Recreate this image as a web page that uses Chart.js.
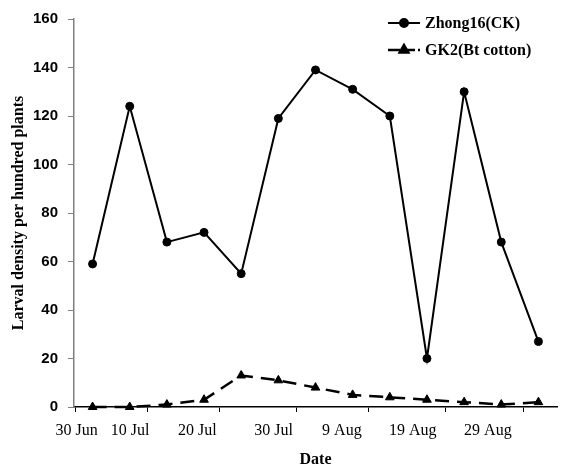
<!DOCTYPE html>
<html>
<head>
<meta charset="utf-8">
<script src="https://cdn.jsdelivr.net/npm/chart.js@4"></script>
<style>
  body { margin: 0; background: #fff; }
  canvas { display: block; }
</style>
</head>
<body>
<canvas id="larvaChart" width="563" height="465"></canvas>
<script>
// larval density per hundred plants, one value per sampling
const samples = [0, 1, 2, 3, 4, 5, 6, 7, 8, 9, 10, 11, 12];
const zhong16 = [59, 124, 68, 72, 55, 119, 139, 131, 120, 20, 130, 68, 27];
const gk2 = [0, 0, 1, 3, 13, 11, 8, 5, 4, 3, 2, 1, 2];

// date labels and where they sit on the sample axis
const dateLabels = ['30 Jun', '10 Jul', '20 Jul', '30 Jul', '9 Aug', '19 Aug', '29 Aug'];
const labelAt = [-0.43, 1.01, 2.82, 4.87, 6.71, 8.62, 10.64];
// tick marks on the date axis
const markAt = [-0.45, 1.49, 3.41, 5.48, 7.42, 9.50, 11.60];

const yTicks = [0, 20, 40, 60, 80, 100, 120, 140, 160];

const serif = 'Liberation Serif';
const sans = 'Liberation Sans';

const xTicks = [
  ...labelAt.map((v, i) => ({ value: v, text: dateLabels[i], mark: false })),
  ...markAt.map(v => ({ value: v, text: '', mark: true }))
];

// legend in the top right corner: short line with marker, then name
const cornerLegend = {
  id: 'cornerLegend',
  afterDraw(chart) {
    const ctx = chart.ctx;
    chart.data.datasets.forEach((ds, i) => {
      const y = 23 + i * 27;
      ctx.save();
      ctx.strokeStyle = ds.borderColor;
      ctx.lineWidth = ds.borderWidth;
      ctx.setLineDash(i === 0 ? [] : [12, 3]);
      ctx.beginPath();
      ctx.moveTo(388, y);
      ctx.lineTo(420, y);
      ctx.stroke();
      ctx.setLineDash([]);
      Chart.helpers.drawPoint(ctx, {
        pointStyle: ds.pointStyle,
        radius: ds.pointRadius,
        rotation: 0,
        borderWidth: 1
      }, 404, y);
      ctx.fillStyle = '#000';
      ctx.font = 'bold 16px "' + serif + '"';
      ctx.textAlign = 'left';
      ctx.textBaseline = 'middle';
      ctx.fillText(ds.label, 425, y + 1);
      ctx.restore();
    });
  }
};

new Chart(document.getElementById('larvaChart'), {
  type: 'line',
  data: {
    datasets: [{
      label: 'Zhong16(CK)',
      data: samples.map((s, i) => ({ x: s, y: zhong16[i] })),
      borderColor: '#000',
      backgroundColor: '#000',
      borderWidth: 2,
      pointStyle: 'circle',
      pointRadius: 4,
      pointBorderWidth: 1,
      tension: 0,
      clip: false
    }, {
      label: 'GK2(Bt cotton)',
      data: samples.map((s, i) => ({ x: s, y: gk2[i] })),
      borderColor: '#000',
      backgroundColor: '#000',
      borderWidth: 2.5,
      borderDash: [14, 8],
      pointStyle: 'triangle',
      pointRadius: 5,
      pointBorderWidth: 1,
      tension: 0,
      clip: false
    }]
  },
  options: {
    responsive: false,
    animation: false,
    devicePixelRatio: 1,
    layout: { padding: { top: 15, right: 0, left: 0, bottom: 0 } },
    plugins: {
      legend: { display: false },
      tooltip: { enabled: false }
    },
    scales: {
      x: {
        type: 'linear',
        min: -0.5,
        max: 12.5,
        afterBuildTicks(scale) {
          scale.ticks = xTicks.map(t => ({ value: t.value }));
        },
        afterFit(scale) { scale.height = 58; },
        border: { color: '#000', width: 1.5 },
        grid: {
          drawOnChartArea: false,
          tickLength: 5,
          tickColor: ctx => (xTicks[ctx.index] && xTicks[ctx.index].mark) ? '#000' : 'rgba(0,0,0,0)'
        },
        ticks: {
          autoSkip: false,
          maxRotation: 0,
          padding: 9,
          color: '#000',
          font: { family: serif, size: 16 },
          callback: (v, i) => xTicks[i] ? xTicks[i].text : ''
        },
        title: {
          display: true,
          text: 'Date',
          color: '#000',
          font: { family: serif, size: 16, weight: 'bold' },
          padding: { top: 4, bottom: -4 }
        }
      },
      y: {
        min: 0,
        max: 160,
        afterBuildTicks(scale) {
          scale.ticks = yTicks.map(v => ({ value: v }));
        },
        afterFit(scale) { scale.width = 74; },
        border: { color: '#808080', width: 1.5 },
        grid: {
          drawOnChartArea: false,
          tickLength: 6,
          tickColor: '#808080'
        },
        ticks: {
          padding: 10,
          color: '#000',
          font: { family: sans, size: 15, weight: 'bold' }
        },
        title: {
          display: true,
          text: 'Larval density per hundred plants',
          color: '#000',
          font: { family: serif, size: 16, weight: 'bold' },
          padding: { top: 9, bottom: 0 }
        }
      }
    }
  },
  plugins: [cornerLegend]
});
</script>
</body>
</html>
